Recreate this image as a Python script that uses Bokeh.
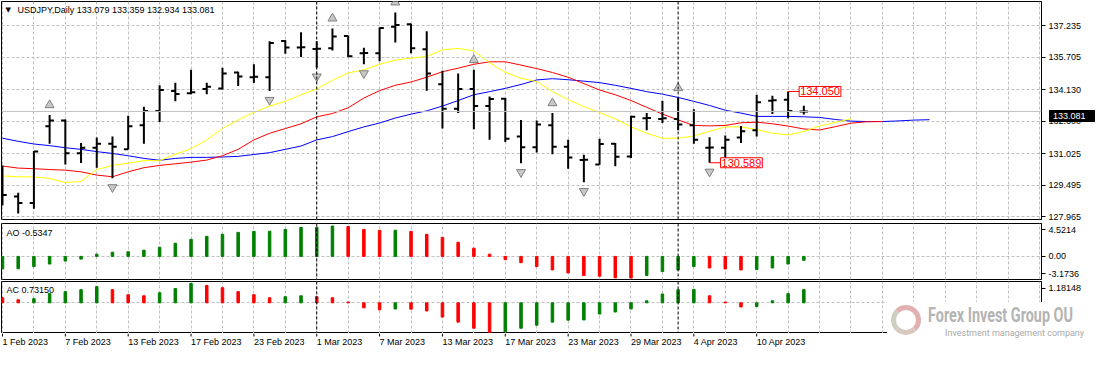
from bokeh.plotting import figure
from bokeh.layouts import column
from bokeh.models import (Range1d, FixedTicker, PrintfTickFormatter, Label, Span,
                          ColumnDataSource, Div)
from bokeh.embed import file_html
from bokeh.resources import INLINE
from bokeh.core.properties import value

# ---------------- data ----------------
symbol = "USDJPY,Daily"
tick_idx = [0, 4, 8, 12, 16, 20, 24, 28, 32, 36, 40, 44, 48]
tick_labels = ["1 Feb 2023", "7 Feb 2023", "13 Feb 2023", "17 Feb 2023", "23 Feb 2023",
               "1 Mar 2023", "7 Mar 2023", "13 Mar 2023", "17 Mar 2023", "23 Mar 2023",
               "29 Mar 2023", "4 Apr 2023", "10 Apr 2023"]
month_starts = [20, 43]
price_ticks = [127.965, 129.495, 131.025, 132.600, 134.130, 135.705, 137.235]
price_scale = (127.835, 138.417)

opens = [130.200, 128.947, 128.638, 132.357, 132.638, 131.049, 131.316, 131.517, 131.250, 132.404,
         133.105, 134.072, 133.965, 134.165, 134.198, 134.974, 134.740, 134.740, 136.500, 136.188,
         136.114, 136.142, 136.740, 135.908, 135.908, 137.188, 137.310, 136.095, 134.399, 133.217,
         134.165, 133.339, 133.700, 131.862, 131.348, 132.404, 131.362, 130.722, 130.500, 131.517,
         130.895, 132.750, 132.719, 132.719, 132.404, 131.316, 131.316, 131.816, 132.171, 133.605,
         133.652, 133.079]
highs = [130.461, 129.134, 131.161, 132.904, 132.685, 131.549, 131.816, 131.862, 132.871, 133.311,
         134.352, 134.478, 135.100, 134.478, 135.207, 135.007, 135.366, 136.487, 136.534, 136.922,
         136.487, 137.109, 136.767, 136.174, 137.156, 137.889, 137.342, 136.969, 135.053, 134.927,
         135.100, 133.806, 133.731, 132.670, 132.638, 133.000, 131.703, 130.975, 131.750, 131.549,
         132.871, 133.000, 133.605, 133.731, 133.184, 131.830, 131.908, 132.376, 133.885, 133.838,
         134.050, 133.359]
lows = [128.512, 128.124, 128.358, 131.517, 130.507, 130.582, 130.349, 129.835, 131.236, 131.517,
        132.563, 133.572, 133.918, 133.918, 134.151, 134.320, 134.460, 134.072, 135.880, 135.721,
        135.207, 136.034, 135.721, 135.366, 135.520, 136.422, 135.908, 134.086, 132.250, 133.000,
        132.218, 131.703, 131.596, 130.568, 131.082, 131.003, 130.302, 129.648, 130.489, 130.414,
        130.816, 132.171, 132.516, 132.171, 131.517, 130.589, 130.769, 131.549, 131.862, 132.951,
        132.750, 132.934]
closes = [129.026, 128.638, 131.140, 132.638, 131.049, 131.316, 131.517, 131.362, 132.357, 133.105,
          134.119, 133.932, 134.011, 134.273, 134.927, 134.773, 134.760, 136.408, 136.188, 136.200,
          136.120, 136.721, 135.754, 135.920, 137.130, 137.282, 136.142, 134.927, 133.217, 134.165,
          133.339, 133.684, 131.750, 131.348, 132.451, 131.362, 130.848, 130.730, 131.503, 130.880,
          132.825, 132.760, 132.750, 132.451, 131.703, 131.330, 131.703, 132.124, 133.526, 133.620,
          133.105, 133.081]

jaw = [131.78, 131.63, 131.50, 131.42, 131.32, 131.24, 131.13, 131.04, 130.93, 130.80,
       130.71, 130.80, 130.85, 130.85, 130.87, 130.90, 130.99, 131.08, 131.24, 131.40,
       131.70, 131.86, 132.10, 132.33, 132.52, 132.76, 132.95, 133.11, 133.34, 133.61,
       133.89, 134.04, 134.20, 134.39, 134.61, 134.67, 134.62, 134.55, 134.48, 134.35,
       134.20, 134.04, 133.92, 133.76, 133.57, 133.37, 133.14, 133.00, 132.84, 132.84,
       132.84, 132.82, 132.79, 132.69, 132.61, 132.59, 132.59, 132.62, 132.66, 132.68]
teeth = [130.43, 130.33, 130.30, 130.26, 130.23, 130.15, 129.99, 129.91, 130.15, 130.35,
         130.46, 130.54, 130.62, 130.72, 130.93, 131.24, 131.70, 132.02, 132.25, 132.48,
         132.82, 132.98, 133.26, 133.73, 134.09, 134.35, 134.51, 134.74, 135.01, 135.18,
         135.37, 135.49, 135.49, 135.33, 135.16, 134.97, 134.74, 134.43, 134.12, 133.89,
         133.61, 133.28, 132.95, 132.67, 132.40, 132.38, 132.40, 132.53, 132.56, 132.48,
         132.37, 132.23, 132.18, 132.34, 132.51, 132.58, 132.59]
lips = [129.95, 129.91, 129.90, 129.83, 129.63, 129.68, 130.26, 130.46, 130.57, 130.69,
        130.69, 131.00, 131.27, 131.70, 132.25, 132.67, 133.03, 133.34, 133.57, 133.89,
        134.17, 134.59, 134.95, 135.10, 135.37, 135.57, 135.67, 135.75, 136.07, 136.14,
        136.02, 135.44, 134.98, 134.69, 134.53, 134.04, 133.65, 133.31, 133.03, 132.72,
        132.33, 132.02, 131.78, 131.78, 131.89, 132.12, 132.33, 132.33, 132.20, 132.02,
        131.94, 132.11, 132.37, 132.55, 132.72]

fractal_up = [3, 21, 25, 30, 35, 43]
fractal_down = [1, 7, 17, 20, 23, 33, 37, 45]

ao = [-1.72, -1.70, -1.40, -1.05, -0.64, -0.37, 0.31, 0.58, 0.64, 0.86,
      1.26, 1.81, 2.35, 2.76, 3.03, 3.30, 3.44, 3.46, 3.71, 3.98,
      4.01, 4.17, 4.11, 3.71, 3.57, 3.60, 3.44, 3.03, 2.62, 1.94,
      1.13, 0.31, -0.45, -0.86, -1.40, -1.86, -2.27, -2.62, -2.72, -2.95,
      -2.97, -2.62, -2.08, -1.86, -1.40, -1.59, -1.72, -1.86, -1.81, -1.59,
      -1.05, -0.5347]
ao_trend = "GGGGGGGGGGGGGGGGGGGGGG" "RRRG" "RRRRRRRRRRRRRRR" "GGGG" "RRR" "GGGG"
ao_scale = (-3.1736, 4.5214)

ac = [0.28, 0.17, 0.23, 0.52, 0.62, 0.73, 0.90, 0.73, 0.45, 0.39,
      0.56, 0.79, 1.07, 0.96, 0.84, 0.62, 0.45, 0.28, 0.34, 0.39,
      0.34, 0.28, 0.04, -0.28, -0.39, -0.34, -0.35, -0.45, -0.79, -1.07,
      -1.41, -1.63, -1.62, -1.41, -1.24, -1.07, -0.96, -0.95, -0.62, -0.51,
      -0.34, 0.11, 0.49, 0.73, 0.74, 0.39, 0.04, -0.23, -0.21, 0.11,
      0.51, 0.7315]
ac_trend = "RR" "GGGGG" "RRR" "GGG" "RRRRR" "GG" "RRRRR" "G" "RRRRRR" "GGGGGGGGGGGGG" "RRR" "GGGG"
ac_scale = (-1.70, 1.18148)

range_window = 10
watermark_title = "Forex Invest Group OU"
watermark_sub = "Investment management company"

# ---------------- styling / layout ----------------
W = 1040
MAIN_H, AO_H, AC_H, STRIP_H = 218, 56, 52, 16
MAIN_TOP, MAIN_BOT = 1, 3
RIGHT = 53
FONT = "Liberation Sans"
FS = "9px"
GRID = "#c0c0c0"
DASH = "3 2"
GREEN, RED = "#008000", "#ff0000"

xr = Range1d(-0.0625, 66.125)
px_per_bar = W / (xr.end - xr.start)


def pane(h, yr, top=1, bottom=1):
    p = figure(frame_width=W, frame_height=h, x_range=xr, y_range=Range1d(*yr),
               output_backend="svg", toolbar_location=None, title=None,
               x_axis_location=None, y_axis_location="right",
               min_border_left=1, min_border_right=RIGHT,
               min_border_top=top, min_border_bottom=bottom)
    p.outline_line_color = "black"
    p.outline_line_alpha = 1.0
    p.background_fill_color = "white"
    p.border_fill_color = "white"
    p.xgrid.ticker = FixedTicker(ticks=list(range(0, 67, 2)))
    for g in (p.xgrid, p.ygrid):
        g.grid_line_color = GRID
        g.grid_line_dash = DASH
    ax = p.yaxis[0]
    ax.axis_line_color = "black"
    ax.major_tick_in = 0
    ax.major_tick_out = 4
    ax.minor_tick_in = 0
    ax.minor_tick_out = 0
    ax.major_label_standoff = 3
    ax.major_label_text_font = FONT
    ax.major_label_text_font_size = FS
    ax.major_label_text_color = "black"
    for m in month_starts:
        p.add_layout(Span(location=m, dimension="height", line_color="black",
                          line_dash=DASH, line_width=1))
    return p


n = len(opens)
xs = list(range(n))

# ---------------- main price pane ----------------
pm = pane(MAIN_H, price_scale, top=MAIN_TOP, bottom=MAIN_BOT)
pm.yaxis.ticker = FixedTicker(ticks=price_ticks)
pm.yaxis.formatter = PrintfTickFormatter(format="%.3f")
pm.add_layout(Span(location=closes[-1], dimension="width", line_color=GRID, line_width=1))

pm.line(list(range(len(jaw))), jaw, line_color="#0000ff", line_width=1)
pm.line(list(range(len(teeth))), teeth, line_color="#ff0000", line_width=1)
pm.line(list(range(len(lips))), lips, line_color="#ffff00", line_width=1)

src = ColumnDataSource(dict(x=xs, xl=[i - 0.27 for i in xs], xr=[i + 0.27 for i in xs],
                            o=opens, h=highs, l=lows, c=closes))
pm.segment(x0="x", y0="l", x1="x", y1="h", source=src, line_color="black", line_width=2)
pm.segment(x0="xl", y0="o", x1="x", y1="o", source=src, line_color="black", line_width=2)
pm.segment(x0="x", y0="c", x1="xr", y1="c", source=src, line_color="black", line_width=2)

ppx = (price_scale[1] - price_scale[0]) / MAIN_H
pm.scatter(fractal_up, [highs[i] + 10 * ppx for i in fractal_up], marker="triangle",
           size=9, fill_color="#c8c8c8", line_color="#808080", line_width=1)
pm.scatter(fractal_down, [lows[i] - 9 * ppx for i in fractal_down], marker="inverted_triangle",
           size=9, fill_color="#c8c8c8", line_color="#808080", line_width=1)

# last-N range high / low markers
last_h = highs[-range_window:]
last_l = lows[-range_window:]
hi_i = n - range_window + last_h.index(max(last_h))
lo_i = n - range_window + last_l.index(min(last_l))
for idx, val in ((hi_i, highs[hi_i]), (lo_i, lows[lo_i])):
    pm.segment(x0=[idx], y0=[val], x1=[idx + 0.7], y1=[val], line_color="red", line_width=1)
    pm.add_layout(Label(x=idx + 0.7, y=val, text=f"{val:.3f}", text_color="red",
                        text_font=FONT, text_font_size="11px", text_baseline="middle",
                        text_align="left", border_line_color="red", border_line_width=1,
                        background_fill_color="white", padding=1))

# header
pm.add_layout(Label(x=4, y=MAIN_H - 8, x_units="screen", y_units="screen", text="\u25bc",
                    text_font="DejaVu Sans", text_font_size="7px", text_baseline="middle",
                    text_color="black"))
pm.add_layout(Label(x=16, y=MAIN_H - 8, x_units="screen", y_units="screen",
                    text=f"{symbol}  {opens[-1]:.3f} {highs[-1]:.3f} {lows[-1]:.3f} {closes[-1]:.3f}",
                    text_font=FONT, text_font_size=FS, text_baseline="middle",
                    text_color="black"))

# ---------------- AO pane ----------------
pao = pane(AO_H, ao_scale, top=1, bottom=1)
aopx = (ao_scale[1] - ao_scale[0]) / AO_H
ao_ticks = [round(ao_scale[0] + 5.7 * aopx, 4), 0.0, round(ao_scale[1] - 6.3 * aopx, 4)]
pao.yaxis.ticker = FixedTicker(ticks=ao_ticks)
pao.yaxis.major_label_overrides = {ao_ticks[0]: f"{ao_scale[0]:.4f}", 0.0: "0.00",
                                   ao_ticks[2]: f"{ao_scale[1]:.4f}"}
pao.ygrid.ticker = FixedTicker(ticks=[0])
pao.vbar(x=xs, top=ao, bottom=0, width=0.16,
         color=[GREEN if t == "G" else RED for t in ao_trend])
pao.add_layout(Label(x=5, y=AO_H - 9, x_units="screen", y_units="screen",
                     text=f"AO {ao[-1]:.4f}", text_font=FONT, text_font_size=FS,
                     text_baseline="middle", text_color="black"))

# ---------------- AC pane ----------------
pac = pane(AC_H, ac_scale, top=1, bottom=0)
acpx = (ac_scale[1] - ac_scale[0]) / AC_H
ac_ticks = [round(ac_scale[1] - 6.6 * acpx, 4)]
pac.yaxis.ticker = FixedTicker(ticks=ac_ticks)
pac.yaxis.major_label_overrides = {ac_ticks[0]: f"{ac_scale[1]:.5f}"}
pac.ygrid.ticker = FixedTicker(ticks=[0])
pac.vbar(x=xs, top=ac, bottom=0, width=0.16,
         color=[GREEN if t == "G" else RED for t in ac_trend])
pac.add_layout(Label(x=5, y=AC_H - 8, x_units="screen", y_units="screen",
                     text=f"AC {ac[-1]:.5f}", text_font=FONT, text_font_size=FS,
                     text_baseline="middle", text_color="black"))

# ---------------- time axis strip ----------------
ps = figure(frame_width=W, frame_height=STRIP_H, x_range=xr, y_range=Range1d(0, STRIP_H),
            output_backend="svg", toolbar_location=None, title=None,
            x_axis_location=None, y_axis_location=None,
            min_border_left=1, min_border_right=RIGHT, min_border_top=0, min_border_bottom=0)
ps.outline_line_color = None
ps.grid.visible = False
k = len(tick_idx)
ps.segment(x0=tick_idx, y0=[STRIP_H] * k, x1=tick_idx, y1=[STRIP_H - 3] * k,
           line_color="black", line_width=1)
ps.text(x=tick_idx, y=[STRIP_H - 8] * k, text=tick_labels, text_align="left",
        text_baseline="middle", text_font=value(FONT), text_font_size=value(FS),
        text_color="black")

# ---------------- overlays placed on the price axis / corner ----------------
tag_y = MAIN_TOP + (price_scale[1] - closes[-1]) / ppx
price_tag = Div(text=f"{closes[-1]:.3f}", width=46, height=12,
                styles={"position": "absolute", "left": f"{1 + W + 3}px",
                        "top": f"{tag_y - 6:.1f}px", "background-color": "black",
                        "color": "white", "font-family": FONT, "font-size": "9px",
                        "line-height": "12px", "padding-left": "4px",
                        "box-sizing": "border-box", "z-index": "5"})

total_w = 1 + W + RIGHT
ac_top = (MAIN_TOP + MAIN_H + MAIN_BOT) + (1 + AO_H + 1) + 1
total_h = ac_top + AC_H + STRIP_H
wm_left = 1 + round(56.06 * px_per_bar)
wm_top = ac_top + 16
wm_html = (
    f'<div style="position:relative;width:{total_w - wm_left}px;height:{total_h - wm_top}px;background:white;">'
    '<div style="position:absolute;left:4px;top:3px;width:30px;height:30px;border-radius:50%;'
    'border:5px solid #e2b0b0;border-left-color:#cfcfc0;border-bottom-color:#d8c8c0;'
    'box-sizing:border-box;"></div>'
    '<div style="position:absolute;left:41px;top:2px;font-family:Roboto;font-weight:bold;'
    'font-size:20px;line-height:23px;color:#b4b4b4;transform:scaleX(0.72);transform-origin:0 0;'
    f'white-space:nowrap;">{watermark_title}</div>'
    '<div style="position:absolute;left:58px;top:26px;font-family:Roboto;font-size:9px;'
    f'line-height:11px;color:#a8a8a8;white-space:nowrap;">{watermark_sub}</div>'
    '</div>'
)
watermark = Div(text=wm_html, width=total_w - wm_left, height=total_h - wm_top,
                styles={"position": "absolute", "left": f"{wm_left}px", "top": f"{wm_top}px",
                        "z-index": "5"})

layout = column(pm, pao, pac, ps, price_tag, watermark, spacing=0,
                styles={"position": "relative"})
open("out.html", "w").write(file_html(layout, INLINE, "USDJPY Daily"))
